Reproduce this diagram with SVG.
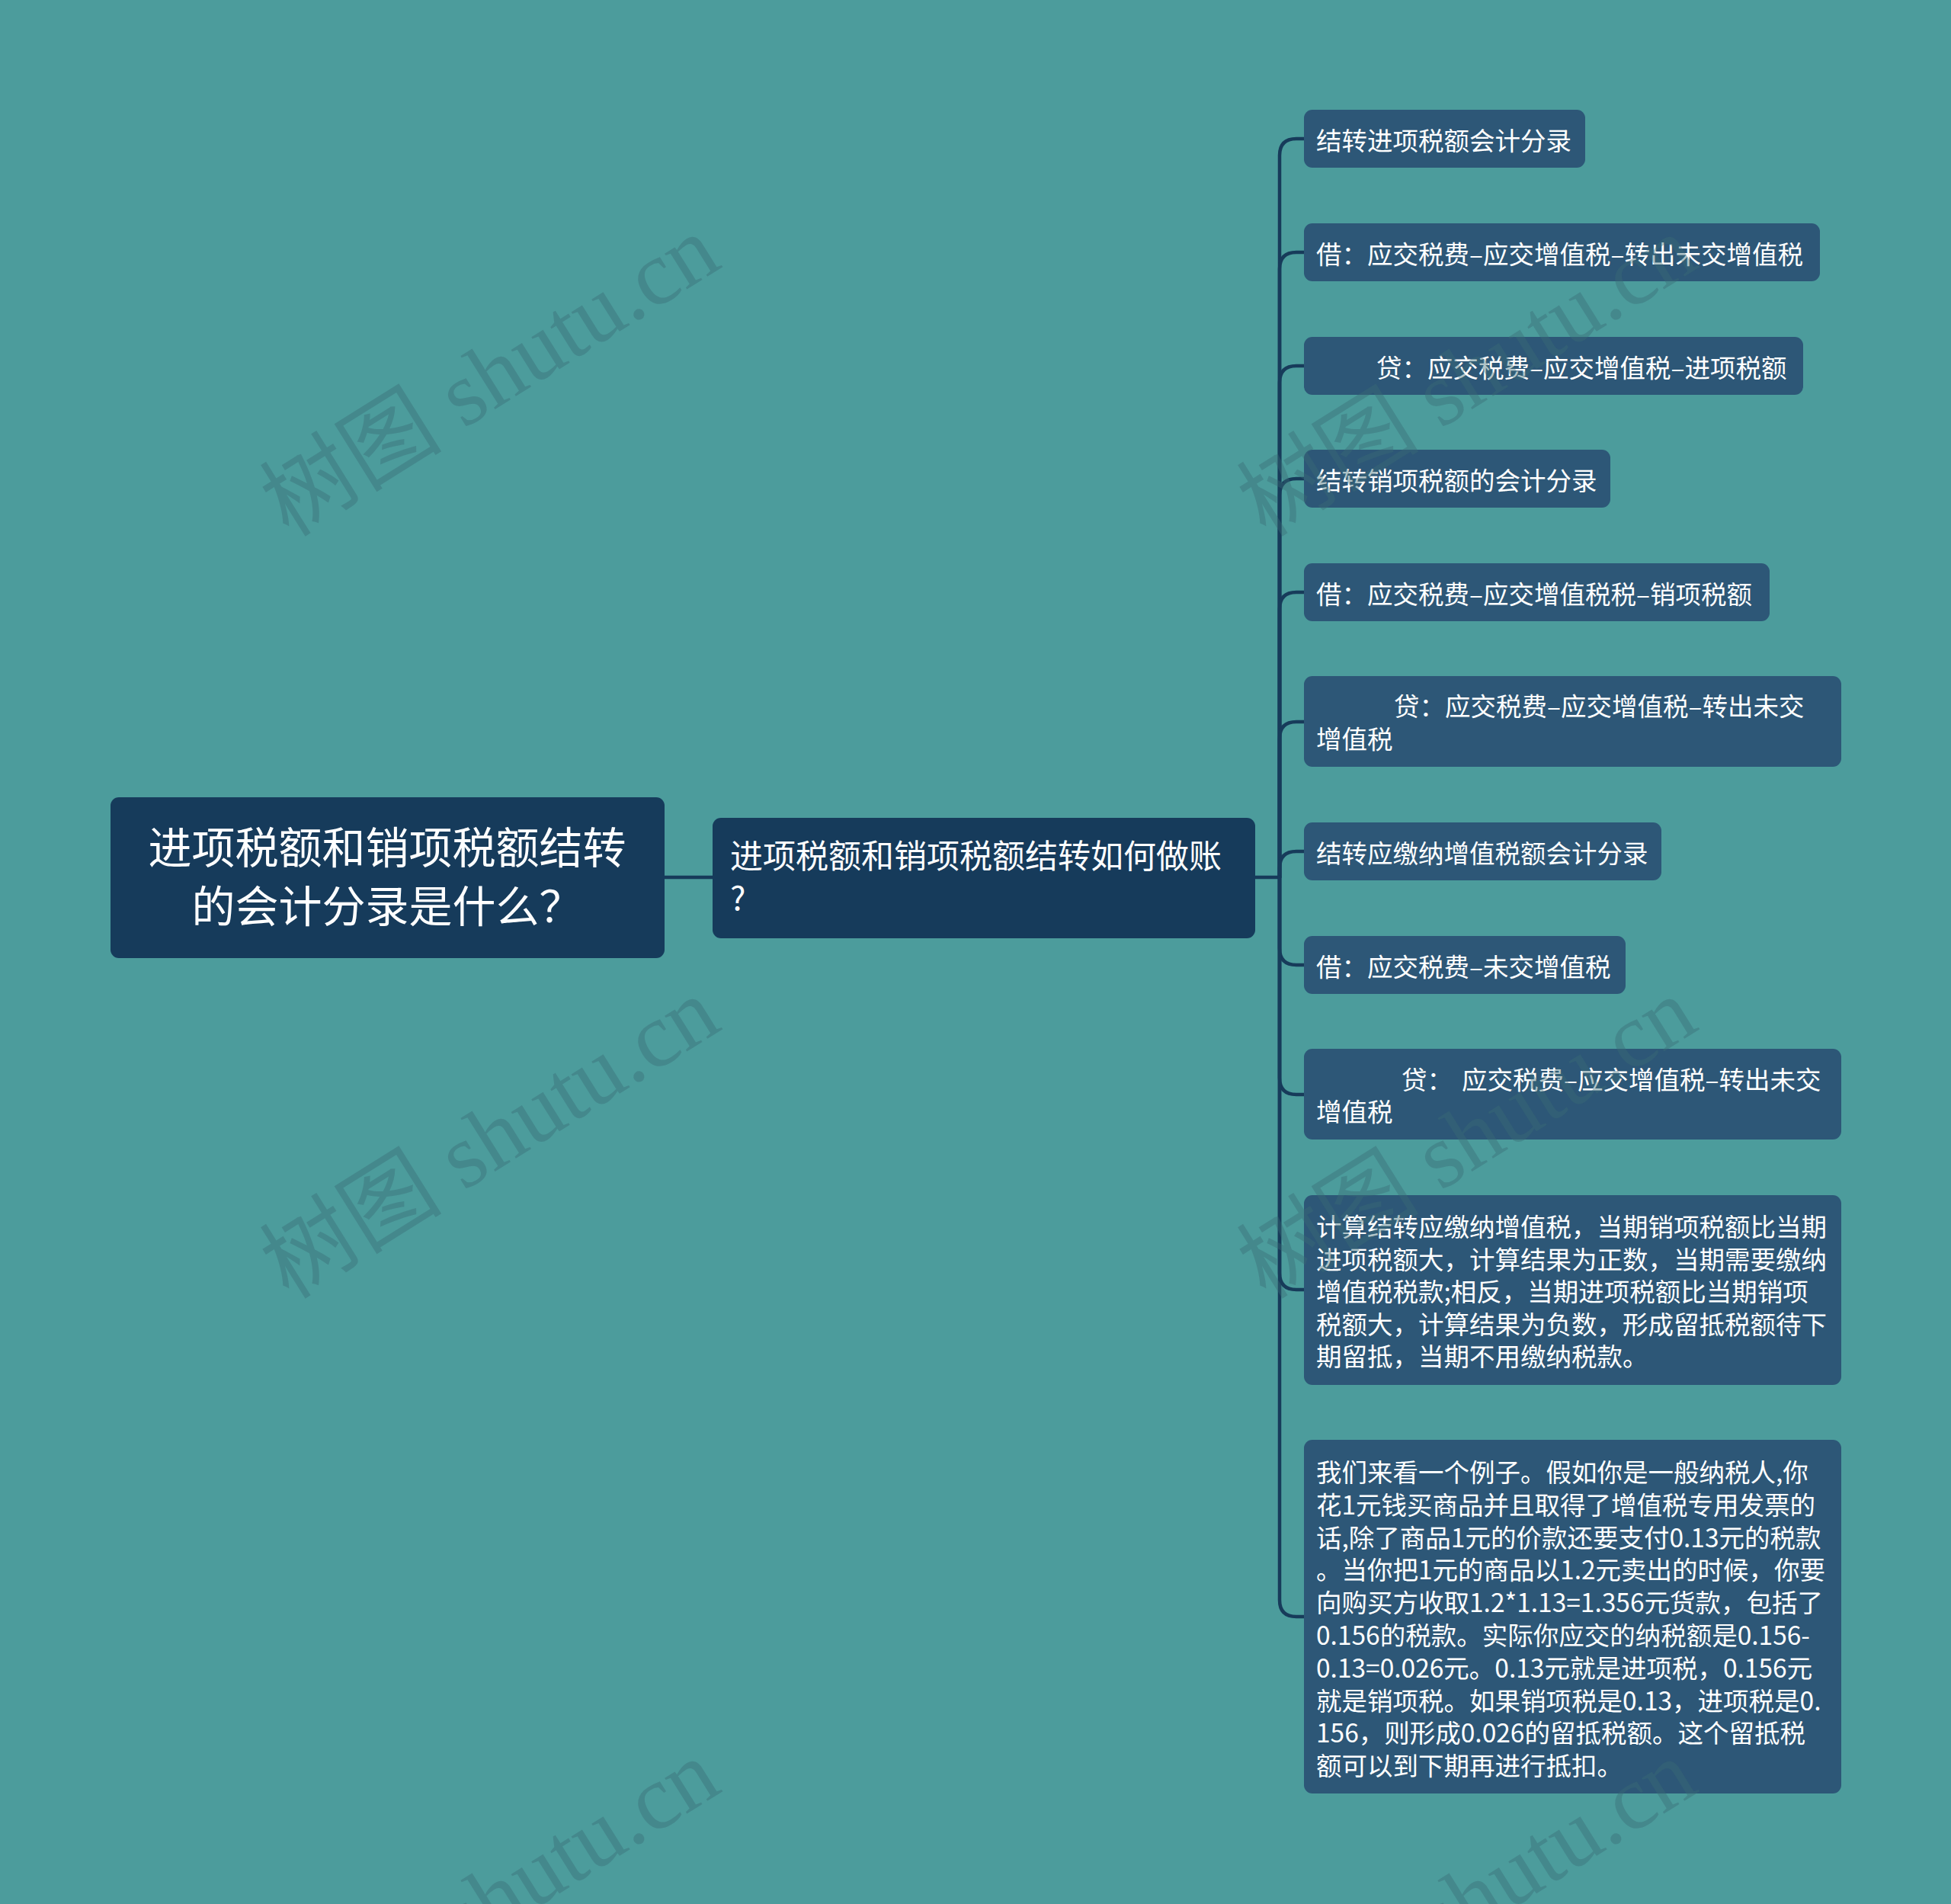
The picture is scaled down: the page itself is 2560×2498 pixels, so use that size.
<svg xmlns="http://www.w3.org/2000/svg" width="2560" height="2498" viewBox="0 0 2560 2498">
<style>
.bg{fill:#4c9c9c}
.main{fill:#163b5b}
.sub{fill:#2d5777}
.t{font-family:"Noto Sans CJK SC","Noto Sans",sans-serif;fill:#ffffff}
.c{font-size:33.5px}
.conn{fill:none;stroke:#173b5a;stroke-width:4.5;stroke-linecap:round;stroke-linejoin:round}
.wm{font-family:"Liberation Serif","Noto Sans CJK SC",serif;font-size:120px;fill:#3a6c76;fill-opacity:0.4}
</style>
<rect class="bg" x="0" y="0" width="2560" height="2498"/>
<g id="connectors">
<path class="conn" d="M872,1151 H935"/>
<path class="conn" d="M1647,1151 H1679 V204 Q1679,182 1701,182 H1713"/>
<path class="conn" d="M1679,1151 V353 Q1679,331 1701,331 H1713"/>
<path class="conn" d="M1679,1151 V502 Q1679,480 1701,480 H1713"/>
<path class="conn" d="M1679,1151 V650 Q1679,628 1701,628 H1713"/>
<path class="conn" d="M1679,1151 V799 Q1679,777 1701,777 H1713"/>
<path class="conn" d="M1679,1151 V969 Q1679,947 1701,947 H1713"/>
<path class="conn" d="M1679,1151 V1139 Q1679,1117 1701,1117 H1713"/>
<path class="conn" d="M1679,1151 V1244 Q1679,1266 1701,1266 H1713"/>
<path class="conn" d="M1679,1151 V1414 Q1679,1436 1701,1436 H1713"/>
<path class="conn" d="M1679,1151 V1670 Q1679,1692 1701,1692 H1713"/>
<path class="conn" d="M1679,1151 V2099 Q1679,2121 1701,2121 H1713"/>
</g>
<g id="root">
<rect class="main" x="145" y="1046" width="727" height="211" rx="11"/>
<text class="t" font-size="57" text-anchor="middle"><tspan x="508" y="1133">进项税额和销项税额结转</tspan><tspan x="508" y="1210">的会计分录是什么？</tspan></text>
</g>
<g id="mid">
<rect class="main" x="935" y="1073" width="712" height="158" rx="11"/>
<text class="t" font-size="43"><tspan x="958" y="1139">进项税额和销项税额结转如何做账</tspan><tspan x="958" y="1194">?</tspan></text>
</g>
<g id="n1">
<rect class="sub" x="1711" y="144" width="369" height="76" rx="11"/>
<text class="t c" x="1727" y="197">结转进项税额会计分录</text>
</g>
<g id="n2">
<rect class="sub" x="1711" y="293" width="677" height="76" rx="11"/>
<text class="t c" x="1727" y="346">借：应交税费–应交增值税–转出未交增值税</text>
</g>
<g id="n3">
<rect class="sub" x="1711" y="442" width="655" height="76" rx="11"/>
<text class="t c" x="1806" y="495">贷：应交税费–应交增值税–进项税额</text>
</g>
<g id="n4">
<rect class="sub" x="1711" y="590" width="402" height="76" rx="11"/>
<text class="t c" x="1727" y="643">结转销项税额的会计分录</text>
</g>
<g id="n5">
<rect class="sub" x="1711" y="739" width="611" height="76" rx="11"/>
<text class="t c" x="1727" y="792">借：应交税费–应交增值税税–销项税额</text>
</g>
<g id="n6">
<rect class="sub" x="1711" y="887" width="705" height="119" rx="11"/>
<text class="t c"><tspan x="1829" y="939">贷：应交税费–应交增值税–转出未交</tspan><tspan x="1727" y="982">增值税</tspan></text>
</g>
<g id="n7">
<rect class="sub" x="1711" y="1079" width="469" height="76" rx="11"/>
<text class="t c" x="1727" y="1132">结转应缴纳增值税额会计分录</text>
</g>
<g id="n8">
<rect class="sub" x="1711" y="1228" width="422" height="76" rx="11"/>
<text class="t c" x="1727" y="1281">借：应交税费–未交增值税</text>
</g>
<g id="n9">
<rect class="sub" x="1711" y="1376" width="705" height="119" rx="11"/>
<text class="t c"><tspan x="1839" y="1429">贷：</tspan><tspan x="1918" y="1429">应交税费–应交增值税–转出未交</tspan><tspan x="1727" y="1471">增值税</tspan></text>
</g>
<g id="n10">
<rect class="sub" x="1711" y="1568" width="705" height="249" rx="11"/>
<text class="t c"><tspan x="1727" y="1622">计算结转应缴纳增值税，当期销项税额比当期</tspan><tspan x="1727" y="1664.6">进项税额大，计算结果为正数，当期需要缴纳</tspan><tspan x="1727" y="1707.2">增值税税款;相反，当期进项税额比当期销项</tspan><tspan x="1727" y="1749.8">税额大，计算结果为负数，形成留抵税额待下</tspan><tspan x="1727" y="1792.4">期留抵，当期不用缴纳税款。</tspan></text>
</g>
<g id="n11">
<rect class="sub" x="1711" y="1889" width="705" height="464" rx="11"/>
<text class="t c"><tspan x="1727" y="1944">我们来看一个例子。假如你是一般纳税人,你</tspan><tspan x="1727" y="1986.8">花1元钱买商品并且取得了增值税专用发票的</tspan><tspan x="1727" y="2029.6">话,除了商品1元的价款还要支付0.13元的税款</tspan><tspan x="1727" y="2072.4">。当你把1元的商品以1.2元卖出的时候，你要</tspan><tspan x="1727" y="2115.2">向购买方收取1.2*1.13=1.356元货款，包括了</tspan><tspan x="1727" y="2158">0.156的税款。实际你应交的纳税额是0.156-</tspan><tspan x="1727" y="2200.8">0.13=0.026元。0.13元就是进项税，0.156元</tspan><tspan x="1727" y="2243.6">就是销项税。如果销项税是0.13，进项税是0.</tspan><tspan x="1727" y="2286.4">156，则形成0.026的留抵税额。这个留抵税</tspan><tspan x="1727" y="2329.2">额可以到下期再进行抵扣。</tspan></text>
</g>
<g id="watermarks">
<text class="wm" transform="translate(379,706) rotate(-32)">树图 shutu.cn</text>
<text class="wm" transform="translate(1661,706) rotate(-32)">树图 shutu.cn</text>
<text class="wm" transform="translate(379,1706) rotate(-32)">树图 shutu.cn</text>
<text class="wm" transform="translate(1661,1706) rotate(-32)">树图 shutu.cn</text>
<text class="wm" transform="translate(379,2706) rotate(-32)">树图 shutu.cn</text>
<text class="wm" transform="translate(1661,2706) rotate(-32)">树图 shutu.cn</text>
</g>
</svg>
